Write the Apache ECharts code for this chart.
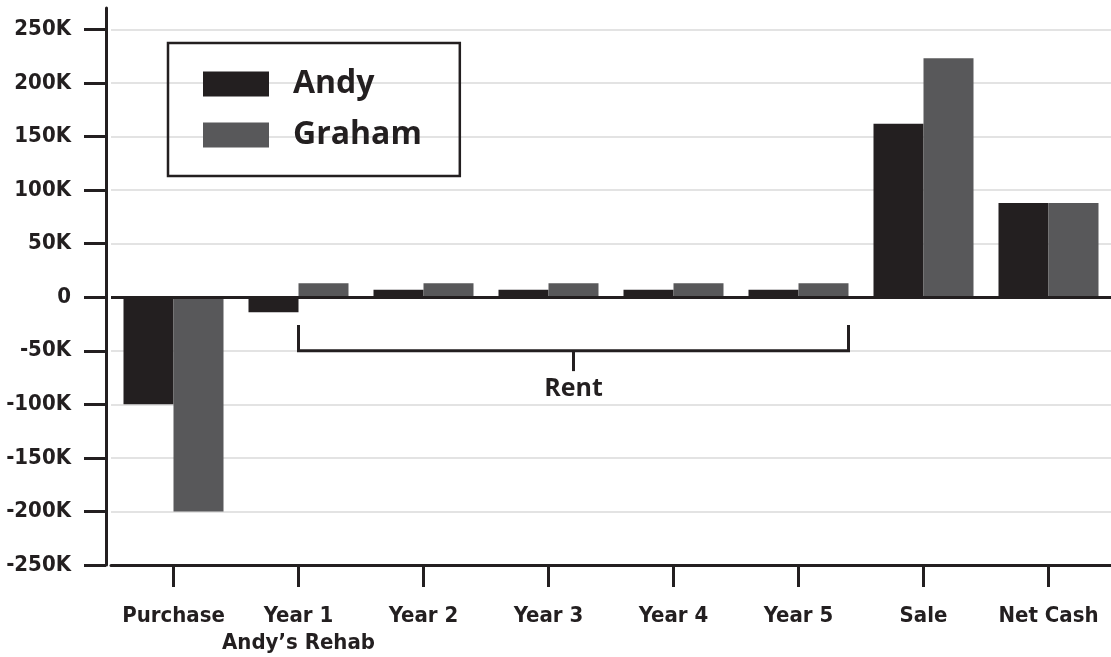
<!DOCTYPE html>
<html>
<head>
<meta charset="utf-8">
<script src="https://cdn.jsdelivr.net/npm/echarts@6/dist/echarts.min.js"></script>
<style>
  html, body { margin: 0; padding: 0; background: #ffffff; }
  #chart { width: 1111px; height: 657px; }
</style>
</head>
<body>
<div id="chart"></div>
<script>
// Cash flow by stage for each investor (USD)
const categories = ['Purchase', 'Year 1\nAndy\u2019s Rehab', 'Year 2', 'Year 3', 'Year 4', 'Year 5', 'Sale', 'Net Cash'];
const andy   = [-100000, -14000, 7000, 7000, 7000, 7000, 162000, 88000];
const graham = [-200000,  13000, 13000, 13000, 13000, 13000, 223000, 88000];
const yTicks = [-250000, -200000, -150000, -100000, -50000, 0, 50000, 100000, 150000, 200000, 250000];
// Rent bracket spans these category indices (Year 1 .. Year 5)
const rentSpan = [1, 5];
const rentLabel = 'Rent';

const INK = '#231f20';
const narrow = '"DejaVu Sans Condensed", serif';

function fmtK(v) {
  if (v === 0) return '0';
  return (v / 1000) + 'K';
}

const chart = echarts.init(document.getElementById('chart'), null, { renderer: 'canvas' });

chart.setOption({
  animation: false,
  backgroundColor: '#ffffff',
  grid: { left: 111, right: 0, top: 8, bottom: 90, containLabel: false },
  legend: {
    orient: 'vertical',
    left: 168,
    top: 43,
    padding: [25, 38, 25, 35],
    itemWidth: 66,
    itemHeight: 25,
    itemGap: 19,
    icon: 'rect',
    borderColor: INK,
    borderWidth: 2.5,
    borderRadius: 0,
    textStyle: {
      color: INK,
      fontFamily: '"Open Sans", sans-serif',
      fontWeight: 'bold',
      fontSize: 32,
      lineHeight: 32,
      padding: [0, 0, 0, 19]
    },
    data: ['Andy', 'Graham']
  },
  xAxis: {
    type: 'category',
    data: categories,
    axisLine: { show: true, onZero: false, lineStyle: { color: INK, width: 3 } },
    axisTick: { show: true, alignWithLabel: true, length: 22, lineStyle: { color: INK, width: 3 } },
    axisLabel: {
      color: INK,
      fontFamily: narrow,
      fontWeight: 'bold',
      fontSize: 22,
      lineHeight: 27,
      margin: 38,
      interval: 0
    },
    splitLine: { show: false }
  },
  yAxis: {
    type: 'value',
    min: -250000,
    max: 270000,
    offset: 5,
    axisLine: { show: true, lineStyle: { color: INK, width: 3 } },
    axisTick: { show: true, length: 22, customValues: yTicks, lineStyle: { color: INK, width: 3 } },
    axisLabel: {
      customValues: yTicks,
      formatter: fmtK,
      color: INK,
      fontFamily: narrow,
      fontWeight: 'bold',
      fontSize: 22,
      margin: 35
    },
    splitLine: { show: true, lineStyle: { color: '#e3e3e3', width: 2 } }
  },
  series: [
    {
      name: 'Andy',
      type: 'bar',
      data: andy,
      barGap: 0,
      barCategoryGap: '20%',
      itemStyle: { color: INK },
      markLine: {
        silent: true,
        symbol: 'none',
        label: { show: false },
        lineStyle: { color: INK, width: 3, type: 'solid' },
        data: [{ yAxis: 0 }]
      }
    },
    {
      name: 'Graham',
      type: 'bar',
      data: graham,
      barGap: 0,
      barCategoryGap: '20%',
      itemStyle: { color: '#58585a' }
    },
    {
      // bracket under the rent years with its label
      name: 'rent-bracket',
      type: 'custom',
      silent: true,
      data: [rentSpan],
      encode: { x: [0, 1] },
      renderItem: function (params, api) {
        const band = api.size([1, 0])[0];
        const x0 = api.coord([api.value(0), 0])[0];
        const x1 = api.coord([api.value(1), 0])[0] + band * 0.4;
        const xm = (x0 + x1) / 2;
        const yTop = api.coord([0, -26000])[1];
        const yBar = api.coord([0, -50000])[1];
        const yStem = api.coord([0, -69000])[1];
        const yText = api.coord([0, -86000])[1];
        const stroke = { stroke: INK, lineWidth: 3, fill: null };
        return {
          type: 'group',
          children: [
            { type: 'polyline', shape: { points: [[x0, yTop], [x0, yBar], [x1, yBar], [x1, yTop]] }, style: stroke },
            { type: 'line', shape: { x1: xm, y1: yBar, x2: xm, y2: yStem }, style: stroke },
            {
              type: 'text',
              x: xm, y: yText,
              style: {
                text: rentLabel,
                fill: INK,
                font: 'bold 25px "Open Sans", sans-serif',
                align: 'center',
                verticalAlign: 'middle'
              }
            }
          ]
        };
      }
    }
  ]
});
</script>
</body>
</html>
